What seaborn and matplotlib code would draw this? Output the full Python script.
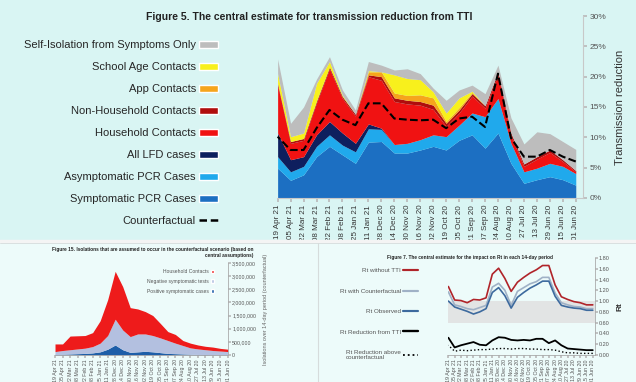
import numpy as np
import seaborn as sns
import matplotlib.pyplot as plt
from matplotlib.patches import Patch, Rectangle
from matplotlib.lines import Line2D

sns.set_theme(style="white")
plt.rcParams['font.family'] = ['Liberation Sans', 'DejaVu Sans']

dates = ["01 Jun 20", "15 Jun 20", "29 Jun 20", "13 Jul 20", "27 Jul 20", "10 Aug 20",
         "24 Aug 20", "07 Sep 20", "21 Sep 20", "05 Oct 20", "19 Oct 20", "02 Nov 20",
         "16 Nov 20", "30 Nov 20", "14 Dec 20", "28 Dec 20", "11 Jan 21", "25 Jan 21",
         "08 Feb 21", "22 Feb 21", "08 Mar 21", "22 Mar 21", "05 Apr 21", "19 Apr 21"]

# Figure 5 - top of each stacked band (% transmission reduction)
symptomatic_pcr_top = [2.1, 3.0, 3.5, 3.0, 2.4, 5.7, 10.7, 8.2, 10.4, 9.5, 7.9, 8.5,
                       7.9, 7.4, 7.4, 9.3, 9.2, 5.7, 7.1, 8.5, 6.8, 3.8, 2.9, 4.9]
asymptomatic_pcr_top = [4.0, 5.2, 5.7, 4.9, 4.3, 9.0, 16.4, 13.4, 14.0, 12.0, 10.1, 10.4,
                        9.6, 9.0, 8.8, 11.3, 11.4, 7.6, 8.7, 10.4, 8.5, 5.2, 4.3, 6.8]
lfd_top = [4.0, 5.2, 5.7, 4.9, 4.3, 9.0, 16.4, 13.4, 14.0, 12.0, 10.1, 10.4,
           9.6, 9.0, 8.8, 11.5, 12.2, 9.0, 10.7, 12.6, 10.4, 6.8, 6.3, 10.7]
household_top = [4.3, 6.0, 7.5, 6.4, 5.2, 10.3, 20.3, 14.8, 16.8, 14.0, 11.8, 14.6,
                 15.3, 15.5, 15.9, 19.4, 20.0, 13.5, 16.4, 21.3, 15.7, 9.5, 9.0, 18.6]
non_household_top = [4.5, 6.3, 7.9, 6.8, 5.6, 10.7, 20.8, 15.2, 17.2, 14.5, 12.3, 15.3,
                     15.9, 16.1, 16.5, 20.0, 20.3, 13.8, 16.7, 21.6, 16.0, 9.8, 9.3, 18.9]
app_top = [4.5, 6.3, 7.9, 6.8, 5.6, 10.7, 20.8, 15.2, 17.4, 14.9, 12.6, 16.5,
           17.0, 16.9, 17.3, 20.8, 20.8, 13.8, 16.7, 21.6, 16.0, 9.8, 9.3, 18.9]
school_top = [4.5, 6.3, 7.9, 6.8, 5.6, 10.7, 20.8, 15.2, 17.6, 16.5, 14.0, 17.5,
              19.5, 19.7, 20.3, 20.8, 21.0, 13.8, 16.9, 22.5, 18.9, 10.7, 10.1, 20.5]
self_isolation_top = [8.0, 9.3, 10.6, 10.9, 8.9, 13.2, 21.9, 17.2, 18.6, 17.8, 16.1, 18.1,
                      20.5, 21.3, 21.1, 21.9, 22.5, 14.5, 17.8, 23.3, 19.6, 15.0, 12.3, 22.9]
counterfactual = [6.0, 6.8, 7.9, 6.8, 6.8, 9.9, 20.5, 11.7, 13.4, 13.1, 11.5, 12.9,
                  12.8, 12.9, 13.1, 15.6, 15.6, 12.0, 12.9, 14.5, 11.5, 7.9, 7.9, 10.1]

# Figure 15 - isolations (stack tops)
positive_top = [10e3, 10e3, 10e3, 20e3, 20e3, 30e3, 40e3, 50e3, 60e3, 90e3, 120e3, 140e3,
                120e3, 100e3, 200e3, 380e3, 220e3, 120e3, 80e3, 60e3, 50e3, 40e3, 30e3, 30e3]
negative_top = [130e3, 150e3, 170e3, 200e3, 230e3, 270e3, 360e3, 450e3, 550e3, 650e3, 740e3, 800e3,
                800e3, 700e3, 950e3, 1360e3, 740e3, 450e3, 320e3, 260e3, 230e3, 200e3, 170e3, 130e3]
hh_contacts_top = [220e3, 250e3, 300e3, 330e3, 380e3, 450e3, 550e3, 780e3, 890e3, 1200e3, 1500e3, 1650e3,
                   1750e3, 1800e3, 2600e3, 3180e3, 2100e3, 1300e3, 850e3, 740e3, 730e3, 720e3, 420e3, 420e3]

# Figure 7 - Rt
rt_without = [0.93, 0.93, 0.97, 0.99, 1.03, 1.08, 1.30, 1.66, 1.66, 1.58, 1.52, 1.44,
              1.35, 1.18, 1.42, 1.61, 1.50, 1.06, 1.02, 1.03, 0.97, 1.01, 1.02, 1.27]
rt_counterfactual = [0.86, 0.86, 0.89, 0.90, 0.93, 0.97, 1.15, 1.44, 1.44, 1.36, 1.32, 1.25,
                     1.18, 0.92, 1.20, 1.33, 1.26, 0.92, 0.88, 0.84, 0.86, 0.90, 0.93, 1.17]
rt_observed = [0.83, 0.83, 0.86, 0.87, 0.89, 0.92, 1.09, 1.37, 1.37, 1.30, 1.24, 1.16,
               1.07, 0.87, 1.10, 1.25, 1.16, 0.86, 0.80, 0.76, 0.81, 0.85, 0.89, 1.00]
rt_reduction = [0.09, 0.09, 0.10, 0.11, 0.12, 0.18, 0.27, 0.22, 0.30, 0.30, 0.27, 0.28,
                0.27, 0.28, 0.32, 0.33, 0.27, 0.18, 0.19, 0.24, 0.21, 0.18, 0.14, 0.32]
rt_reduction_cf = [0.03, 0.03, 0.03, 0.04, 0.04, 0.06, 0.09, 0.10, 0.10, 0.11, 0.11, 0.12,
                   0.12, 0.11, 0.12, 0.12, 0.11, 0.10, 0.10, 0.09, 0.08, 0.09, 0.07, 0.18]

x = np.arange(len(dates))

fig = plt.figure(figsize=(6.36, 3.82), dpi=100, facecolor="#d9f5f3")

# bottom panels background
fig.patches.append(Rectangle((0, 0), 1, 140 / 382, transform=fig.transFigure,
                             facecolor="#edfbfa", edgecolor="none", zorder=-2))
fig.add_artist(Line2D([0, 1], [141 / 382, 141 / 382], color="#f4f4f4", lw=2.5))
fig.add_artist(Line2D([0, 1], [139 / 382, 139 / 382], color="#d6dcdc", lw=0.6))
fig.add_artist(Line2D([318 / 636, 318 / 636], [0, 139 / 382], color="#d6dcdc", lw=0.8))

# ---------------- Figure 5 ----------------
ax = fig.add_axes([0.4355, 0.482, 0.481, 0.476])
ax.set_facecolor("none")
bands = [
    ("Symptomatic PCR Cases", symptomatic_pcr_top, "#1c6fc2"),
    ("Asymptomatic PCR Cases", asymptomatic_pcr_top, "#20a9ec"),
    ("All LFD cases", lfd_top, "#0e1f5e"),
    ("Household Contacts", household_top, "#f01212"),
    ("Non-Household Contacts", non_household_top, "#b00d0d"),
    ("App Contacts", app_top, "#f6a51c"),
    ("School Age Contacts", school_top, "#f8f01c"),
    ("Self-Isolation from Symptoms Only", self_isolation_top, "#bdbdbd"),
]
lower = np.zeros(len(x))
for label, top, color in bands:
    ax.fill_between(x, lower, top, color=color, lw=0)
    lower = np.array(top)
sns.lineplot(x=x, y=counterfactual, ax=ax, color="black", lw=1.5, dashes=(3, 2),
             linestyle="--")

ax.set_xlim(23.05, -0.55)
ax.set_ylim(0, 30)
ax.yaxis.tick_right()
ax.yaxis.set_label_position("right")
ax.set_yticks(range(0, 31, 5))
ax.set_yticklabels([f"{v}%" for v in range(0, 31, 5)], fontsize=6, color="#555555")
ax.set_xticks(x)
ax.set_xticklabels(dates, rotation=90, fontsize=5.8, color="#333333")
ax.set_ylabel("Transmission reduction", fontsize=8, color="#333333", labelpad=6, rotation=90)
for s in ["top", "left"]:
    ax.spines[s].set_visible(False)
for s in ["right", "bottom"]:
    ax.spines[s].set_color("#c8c8c8")
    ax.spines[s].set_linewidth(0.8)
ax.tick_params(axis="both", length=3, color="#bbbbbb", pad=2, right=True, bottom=True)

fig.text(0.486, 0.955, "Figure 5. The central estimate for transmission reduction from TTI",
         ha="center", va="center", fontsize=7.5, weight="bold", color="#222222")

handles = [Patch(facecolor=c, label=l) for l, _, c in bands[::-1]]
handles.append(Line2D([], [], color="black", lw=1.8, ls="--", dashes=(3, 1.5), label="Counterfactual"))
fig.legend(handles=handles, loc="upper right", bbox_to_anchor=(218 / 636, 1 - 40 / 382),
           frameon=False, markerfirst=False, fontsize=8, labelspacing=1.08,
           handlelength=1.7, handleheight=0.6, handletextpad=0.3, borderpad=0,
           borderaxespad=0)

# ---------------- Figure 15 ----------------
ax2 = fig.add_axes([0.0865, 0.0707, 0.272, 0.241])
ax2.set_facecolor("none")
iso = [("Positive symptomatic cases", positive_top, "#1d5ea8"),
       ("Negative symptomatic tests", negative_top, "#b3c0e0"),
       ("Household Contacts", hh_contacts_top, "#ee1b1b")]
lower = np.zeros(len(x))
for label, top, color in iso:
    ax2.fill_between(x, lower, top, color=color, lw=0)
    lower = np.array(top)
ax2.set_xlim(23, 0)
ax2.set_ylim(0, 3500000)
ax2.yaxis.tick_right()
ax2.set_yticks(range(0, 3500001, 500000))
ax2.set_yticklabels([f"{v:,}" for v in range(0, 3500001, 500000)], fontsize=3.8, color="#555555")
ax2.set_xticks(x)
ax2.set_xticklabels(dates, rotation=90, fontsize=3.8, color="#555555")
ax2.tick_params(axis="both", length=2, color="#bbbbbb", pad=1, right=True, bottom=True)
for s in ["top", "left"]:
    ax2.spines[s].set_visible(False)
for s in ["right", "bottom"]:
    ax2.spines[s].set_color("#aaaaaa")
    ax2.spines[s].set_linewidth(0.6)
ax2.set_ylabel("Isolations over 14-day period (counterfactual)", fontsize=4, color="#666666")
ax2.yaxis.set_label_position("right")
ax2.yaxis.set_label_coords(1.2, 0.5)
fig.text(253 / 636, 1 - 247 / 382,
         "Figure 15. Isolations that are assumed to occur in the counterfactual scenario (based on\ncentral assumptions)",
         ha="right", va="top", fontsize=3.4, weight="bold", color="#222222", linespacing=1.2)
h2 = [Patch(facecolor=c, label=l) for l, _, c in iso[::-1]]
fig.legend(handles=h2, loc="upper right", bbox_to_anchor=(214 / 636, 1 - 269 / 382),
           frameon=False, markerfirst=False, fontsize=3.6, labelspacing=0.95,
           handlelength=0.7, handleheight=0.7, handletextpad=0.4, borderpad=0,
           borderaxespad=0, labelcolor="#555555")

# ---------------- Figure 7 ----------------
ax3 = fig.add_axes([0.704, 0.0707, 0.231, 0.254])
ax3.set_facecolor("none")
ax3.axhspan(0.6, 1.0, color="#e2e4e4", lw=0, zorder=0)
rt_lines = [("Rt without TTI", rt_without, "#b0242a", 1.2, "-"),
            ("Rt with Counterfactual", rt_counterfactual, "#9fb1c6", 1.2, "-"),
            ("Rt Observed", rt_observed, "#3d6a9e", 1.2, "-"),
            ("Rt Reduction from TTI", rt_reduction, "black", 1.3, "-"),
            ("Rt Reduction above\ncounterfactual", rt_reduction_cf, "black", 1.0, ":")]
for label, vals, color, lw, ls in rt_lines:
    sns.lineplot(x=x, y=vals, ax=ax3, color=color, lw=lw, linestyle=ls)
ax3.set_xlim(23.1, -0.3)
ax3.set_ylim(0, 1.8)
ax3.yaxis.tick_right()
ax3.set_yticks(np.arange(0, 1.81, 0.2))
ax3.set_yticklabels([f"{v:.2f}" for v in np.arange(0, 1.81, 0.2)], fontsize=4, color="#555555")
ax3.set_xticks(x)
ax3.set_xticklabels(dates, rotation=90, fontsize=3.8, color="#555555")
ax3.tick_params(axis="both", length=2, color="#bbbbbb", pad=1, right=True, bottom=True)
for s in ["top", "left"]:
    ax3.spines[s].set_visible(False)
for s in ["right", "bottom"]:
    ax3.spines[s].set_color("#aaaaaa")
    ax3.spines[s].set_linewidth(0.6)
ax3.set_ylabel("Rt", fontsize=6, weight="bold", color="#333333")
ax3.yaxis.set_label_position("right")
ax3.yaxis.set_label_coords(1.15, 0.5)
fig.text(470 / 636, 1 - 258 / 382,
         "Figure 7. The central estimate for the impact on Rt in each 14-day period",
         ha="center", va="center", fontsize=3.4, weight="bold", color="#222222")
h3 = [Line2D([], [], color=c, lw=lw * 1.3, ls=ls, label=l) for l, _, c, lw, ls in rt_lines]
fig.legend(handles=h3, loc="upper right", bbox_to_anchor=(418 / 636, 1 - 268 / 382),
           frameon=False, markerfirst=False, fontsize=4.5, labelspacing=2.4,
           handlelength=2.4, handletextpad=0.3, borderpad=0, borderaxespad=0,
           labelcolor="#555555")

fig.savefig("out.png", dpi=100, facecolor=fig.get_facecolor())
